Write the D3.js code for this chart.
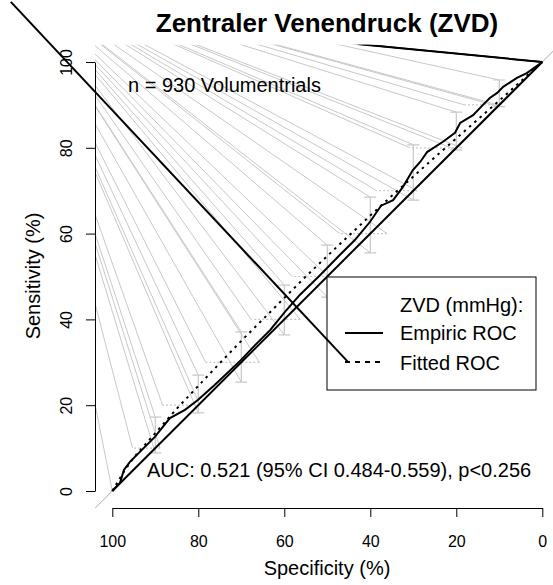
<!DOCTYPE html>
<html>
<head>
<meta charset="utf-8">
<script src="https://cdn.jsdelivr.net/npm/d3@7"></script>
<style>
  body { margin: 0; background: #fff; }
  text { font-family: "Liberation Sans", Arial, sans-serif; }
</style>
</head>
<body>
<div id="chart"></div>
<script>
// Empiric ROC (specificity %, sensitivity %)
const empSpec = [100, 98.2, 97.3, 95.9, 90.1, 86.6, 83.1, 80.1, 76.2, 70.1, 66.8, 63.3, 59.9, 56.4, 51.7, 47.1, 43.6, 40.1, 37.5, 34.7, 32.4, 30.1, 28.4, 26.8, 23.1, 20.3, 19.1, 16.1, 13.8, 12.2, 10.5, 9.1, 5.9, 3.6, 0];
const empSens = [0, 1.9, 4.9, 6.8, 12.6, 17.0, 18.9, 21.2, 24.7, 30.5, 34.0, 37.5, 41.7, 45.7, 50.3, 55.0, 58.5, 62.7, 66.5, 67.8, 70.9, 74.8, 76.7, 79.0, 81.4, 83.5, 85.8, 87.6, 90.0, 91.6, 92.8, 94.2, 96.3, 97.4, 100];

// Fitted ROC
const fitSpec = [100, 97, 95, 90, 85, 80, 75, 70, 65, 60, 55, 50, 45, 40, 35, 30, 25, 20, 15, 10, 5, 0];
const fitSens = [0, 5, 7.8, 13.5, 19.2, 24.5, 29.8, 35, 40, 45, 50, 54.8, 59.5, 64.2, 68.8, 73.3, 77.8, 82.2, 86.6, 91, 95.5, 100];

// Sensitivity CI at fixed specificities
const ciSpecAt = [90, 80, 70, 60, 50, 40, 30, 20, 10];
const ciSensLo = [8.9, 18.2, 25.4, 36.4, 45.2, 55.5, 67.8, 79.5, 89.6];
const ciSensHi = [17.2, 27.0, 37.1, 48.0, 57.3, 68.5, 80.7, 88.3, 95.8];

// Specificity CI at fixed sensitivities
const ciSensAt = [10, 20, 30, 40, 50, 60, 70, 80, 90];
const ciSpecLo = [88.9, 79.6, 65.8, 56.3, 49.8, 36.1, 29.1, 18.7, 10.3];
const ciSpecHi = [95.3, 88.3, 78.3, 67.7, 58.2, 47.1, 38.5, 30.8, 18.1];

// far point the grey leader lines run towards (spec, sens)
const fanFocus = [124, 121];
// black leader lines (spec, sens pairs)
const blackLeaders = [[[123.6, 114], [45.2, 30.1]], [[0, 100], [43, 104.2]], [[0, 100], [45, 104.4]]];

const xTicks = [100, 80, 60, 40, 20, 0];
const yTicks = [0, 20, 40, 60, 80, 100];

const width = 553, height = 585;

const svg = d3.select('#chart')
    .append('svg')
    .attr('width', width)
    .attr('height', height);

const x = d3.scaleLinear().domain([100, 0]).range([112.3, 542.3]);
const y = d3.scaleLinear().domain([0, 100]).range([491, 62]);

// plot region (R adds 4% on each side)
svg.append('clipPath').attr('id', 'plotclip')
    .append('rect')
    .attr('x', x(104)).attr('y', y(104))
    .attr('width', x(-4) - x(104)).attr('height', y(-4) - y(104));

const plot = svg.append('g').attr('clip-path', 'url(#plotclip)');

// grey leader lines from each CI end towards the far point
const ends = [[100, 0]];
ciSpecAt.forEach((s, i) => { ends.push([s, ciSensLo[i]], [s, ciSensHi[i]]); });
ciSensAt.forEach((s, i) => { ends.push([ciSpecLo[i], s], [ciSpecHi[i], s]); });

plot.selectAll('.lead')
    .data(ends)
    .enter()
    .append('line')
    .attr('class', 'lead')
    .attr('x1', d => x(d[0])).attr('y1', d => y(d[1]))
    .attr('x2', d => x(d[0] + (fanFocus[0] - d[0]) * 3))
    .attr('y2', d => y(d[1] + (fanFocus[1] - d[1]) * 3))
    .attr('stroke', '#c8c8c8')
    .attr('stroke-width', 1);

// grey diagonal across the plot region
plot.append('line')
    .attr('x1', x(110)).attr('y1', y(-10))
    .attr('x2', x(-10)).attr('y2', y(110))
    .attr('stroke', '#aaa').attr('stroke-width', 1);

// vertical CI bars
const capW = 6;
const vbars = plot.selectAll('.vbar').data(ciSpecAt).enter().append('g').attr('class', 'vbar');
vbars.append('line')
    .attr('x1', d => x(d)).attr('x2', d => x(d))
    .attr('y1', (d, i) => y(ciSensLo[i])).attr('y2', (d, i) => y(ciSensHi[i]));
vbars.append('line')
    .attr('x1', d => x(d) - capW).attr('x2', d => x(d) + capW)
    .attr('y1', (d, i) => y(ciSensLo[i])).attr('y2', (d, i) => y(ciSensLo[i]));
vbars.append('line')
    .attr('x1', d => x(d) - capW).attr('x2', d => x(d) + capW)
    .attr('y1', (d, i) => y(ciSensHi[i])).attr('y2', (d, i) => y(ciSensHi[i]));
vbars.selectAll('line').attr('stroke', '#c8c8c8').attr('stroke-width', 1.2);

// horizontal CI (dotted)
plot.selectAll('.hbar')
    .data(ciSensAt)
    .enter()
    .append('line')
    .attr('class', 'hbar')
    .attr('x1', (d, i) => x(ciSpecLo[i])).attr('x2', (d, i) => x(ciSpecHi[i]))
    .attr('y1', d => y(d)).attr('y2', d => y(d))
    .attr('stroke', '#c8c8c8').attr('stroke-width', 1.2)
    .attr('stroke-dasharray', '2,2');

// black diagonal reference
plot.append('line')
    .attr('x1', x(100)).attr('y1', y(0))
    .attr('x2', x(0)).attr('y2', y(100))
    .attr('stroke', '#000').attr('stroke-width', 2);

// black leaders at the top
blackLeaders.slice(1).forEach((p, i) => {
    plot.append('line')
        .attr('x1', x(p[0][0])).attr('y1', y(p[0][1]))
        .attr('x2', x(p[1][0])).attr('y2', y(p[1][1]))
        .attr('stroke', '#000').attr('stroke-width', i === 0 ? 2 : 1.5);
});

const line = d3.line().x(d => x(d[0])).y(d => y(d[1]));

// fitted ROC
plot.append('path')
    .datum(fitSpec.map((s, i) => [s, fitSens[i]]))
    .attr('d', line)
    .attr('fill', 'none').attr('stroke', '#000')
    .attr('stroke-width', 2).attr('stroke-dasharray', '2.5,4.5');

// empiric ROC
plot.append('path')
    .datum(empSpec.map((s, i) => [s, empSens[i]]))
    .attr('d', line)
    .attr('fill', 'none').attr('stroke', '#000')
    .attr('stroke-width', 2);

// axes
const xAxis = svg.append('g')
    .attr('transform', 'translate(0,508)')
    .call(d3.axisBottom(x).tickValues(xTicks).tickSize(9).tickSizeOuter(0).tickFormat(d3.format('d')));
xAxis.selectAll('text').attr('y', 39).attr('dy', 0).attr('font-size', 16).attr('fill', '#000');

const yAxis = svg.append('g')
    .attr('transform', 'translate(95,0)')
    .call(d3.axisLeft(y).tickValues(yTicks).tickSize(9).tickSizeOuter(0).tickFormat(d3.format('d')));
yAxis.selectAll('text')
    .attr('x', 0).attr('y', 0).attr('dy', 0)
    .attr('text-anchor', 'middle')
    .attr('transform', 'translate(-23,0) rotate(-90)')
    .attr('font-size', 16).attr('fill', '#000');

[xAxis, yAxis].forEach(a => {
    a.selectAll('path, line').attr('stroke', '#000');
    a.select('.domain').attr('stroke-width', 1);
});

// titles
svg.append('text')
    .attr('x', 327).attr('y', 32)
    .attr('text-anchor', 'middle')
    .attr('font-size', 26).attr('font-weight', 'bold')
    .text('Zentraler Venendruck (ZVD)');

svg.append('text')
    .attr('x', 327).attr('y', 575)
    .attr('text-anchor', 'middle')
    .attr('font-size', 20)
    .text('Specificity (%)');

svg.append('text')
    .attr('transform', 'translate(40,276) rotate(-90)')
    .attr('text-anchor', 'middle')
    .attr('font-size', 20)
    .text('Sensitivity (%)');

svg.append('text')
    .attr('x', 128).attr('y', 92)
    .attr('font-size', 20)
    .text('n = 930 Volumentrials');

svg.append('text')
    .attr('x', 147).attr('y', 477)
    .attr('font-size', 20)
    .text('AUC: 0.521 (95% CI 0.484-0.559), p<0.256');

// legend
const legend = svg.append('g');
legend.append('rect')
    .attr('x', 327).attr('y', 277)
    .attr('width', 209).attr('height', 113)
    .attr('fill', '#fff').attr('stroke', '#000').attr('stroke-width', 1);
legend.append('text').attr('x', 400).attr('y', 312).attr('font-size', 20).text('ZVD (mmHg):');
legend.append('text').attr('x', 400).attr('y', 340).attr('font-size', 20).text('Empiric ROC');
legend.append('text').attr('x', 400).attr('y', 370).attr('font-size', 20).text('Fitted ROC');
legend.append('line').attr('x1', 345).attr('x2', 383).attr('y1', 333).attr('y2', 333)
    .attr('stroke', '#000').attr('stroke-width', 2);
legend.append('line').attr('x1', 345).attr('x2', 383).attr('y1', 362).attr('y2', 362)
    .attr('stroke', '#000').attr('stroke-width', 2).attr('stroke-dasharray', '5,5');

// long black leader into the legend (drawn over it, not clipped)
const bl = blackLeaders[0];
svg.append('line')
    .attr('x1', x(bl[0][0])).attr('y1', y(bl[0][1]))
    .attr('x2', x(bl[1][0])).attr('y2', y(bl[1][1]))
    .attr('stroke', '#000').attr('stroke-width', 2);
</script>
</body>
</html>
